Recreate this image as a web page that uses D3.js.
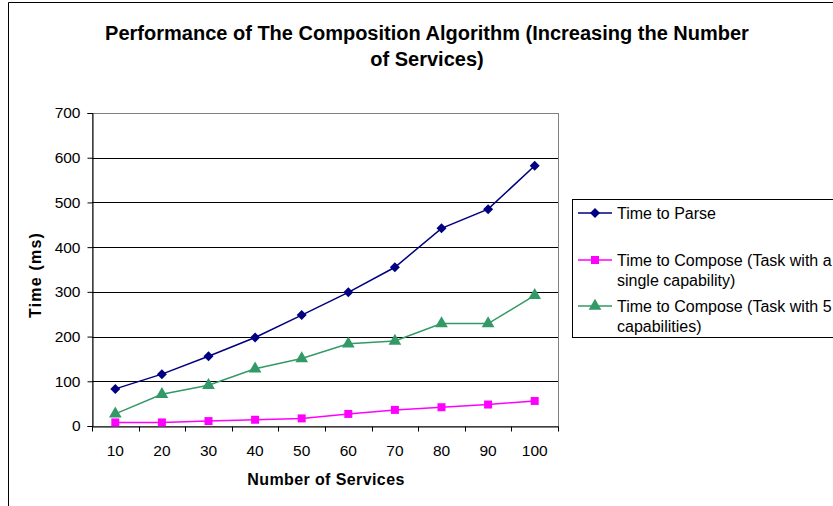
<!DOCTYPE html>
<html><head><meta charset="utf-8">
<script src="https://cdn.jsdelivr.net/npm/d3@7"></script>
<style>body{margin:0;background:#fff}svg{display:block;font-family:"Liberation Sans",Arial,sans-serif}</style>
</head><body><svg id="c" width="833" height="506"></svg>
<script>
const categories = [10,20,30,40,50,60,70,80,90,100];
const timeToParse = [83,116,156,198,248,299,355,442,485,582];
const composeSingle = [8,8,11,14,17,27,36,42,48,56];
const composeFive = [27,71,91,128,151,184,190,229,229,292];
const yTicks = [0,100,200,300,400,500,600,700];
const titleLines = ["Performance of The Composition Algorithm (Increasing the Number","of Services)"];
const series = [
  {name:["Time to Parse"], values:timeToParse, color:"#000080", marker:"diamond"},
  {name:["Time to Compose (Task with a","single capability)"], values:composeSingle, color:"#FF00FF", marker:"square"},
  {name:["Time to Compose (Task with 5","capabilities)"], values:composeFive, color:"#339966", marker:"triangle"}
];

const svg = d3.select("#c");
const L=92,R=558,T=113,B=426;
const x = d3.scaleBand().domain(categories).range([L,R]);
const y = d3.scaleLinear().domain([0,700]).range([B,T]);

// outer frame
svg.append("path").attr("d","M8.5,506 V2.5 H833").attr("fill","none").attr("stroke","#000").attr("stroke-width",1);

// title
svg.append("g").selectAll("text").data(titleLines).join("text")
  .attr("x",427).attr("y",(d,i)=>40+i*26).attr("text-anchor","middle")
  .attr("font-size",20).attr("font-weight","bold").text(d=>d);

// plot border
svg.append("rect").attr("x",L+0.5).attr("y",T+0.5).attr("width",R-L).attr("height",B-T)
  .attr("fill","none").attr("stroke","#808080");

// gridlines
svg.append("g").selectAll("line").data(yTicks.filter(d=>d>0 && d<700)).join("line")
  .attr("x1",L).attr("x2",R).attr("y1",d=>Math.round(y(d))+0.5).attr("y2",d=>Math.round(y(d))+0.5)
  .attr("stroke","#000");

// y axis
const ya = svg.append("g").attr("transform",`translate(${L+0.5},0)`)
  .call(d3.axisLeft(y).tickValues(yTicks).tickSize(5).tickPadding(7));
ya.select(".domain").attr("stroke","#000");
ya.selectAll("text").attr("font-size",15.5).attr("font-family","Liberation Sans, Arial, sans-serif").attr("fill","#000");

// x axis
const xa = svg.append("g").attr("transform",`translate(0,${B+0.5})`)
  .call(d3.axisBottom(x).tickSize(0).tickPadding(18));
xa.select(".domain").attr("stroke","#000");
xa.selectAll("text").attr("font-size",15.5).attr("font-family","Liberation Sans, Arial, sans-serif").attr("fill","#000");
const bounds = categories.map(c=>x(c)).concat([R]);
xa.selectAll("line.bt").data(bounds).join("line").attr("class","bt")
  .attr("x1",d=>Math.round(d)+0.5).attr("x2",d=>Math.round(d)+0.5).attr("y1",0).attr("y2",5).attr("stroke","#000");

// axis titles
svg.append("text").attr("x",326).attr("y",485).attr("text-anchor","middle")
  .attr("font-size",16).attr("font-weight","bold").attr("letter-spacing",0.4).text("Number of Services");
svg.append("text").attr("transform","translate(41,275) rotate(-90)").attr("text-anchor","middle")
  .attr("font-size",16).attr("font-weight","bold").attr("letter-spacing",1.2).text("Time (ms)");

const sym = {diamond:d3.symbol(d3.symbolSquare,50), square:d3.symbol(d3.symbolSquare,64), triangle:d3.symbol(d3.symbolTriangle,70)};
const rot = {diamond:45, square:0, triangle:0};
const cx = d=>x(d)+x.bandwidth()/2;
const line = d3.line().x((d,i)=>cx(categories[i])).y(d=>y(d));

series.forEach(s=>{
  svg.append("path").attr("d",line(s.values)).attr("fill","none").attr("stroke",s.color).attr("stroke-width",1.5);
  svg.append("g").selectAll("path").data(s.values).join("path")
    .attr("transform",(d,i)=>`translate(${cx(categories[i])},${y(d)}) rotate(${rot[s.marker]})`)
    .attr("d",sym[s.marker]()).attr("fill",s.color);
});

// legend
const lg = svg.append("g");
lg.append("rect").attr("x",572.5).attr("y",199.5).attr("width",300).attr("height",138).attr("fill","#fff").attr("stroke","#000");
const rowY = [213,260,306];
series.forEach((s,i)=>{
  const g = lg.append("g");
  g.append("line").attr("x1",578).attr("x2",612).attr("y1",rowY[i]).attr("y2",rowY[i]).attr("stroke",s.color).attr("stroke-width",1.5);
  g.append("path").attr("transform",`translate(595,${rowY[i]}) rotate(${rot[s.marker]})`).attr("d",sym[s.marker]()).attr("fill",s.color);
  g.selectAll("text").data(s.name).join("text").attr("x",617).attr("y",(d,j)=>rowY[i]+5.5+j*20.5)
    .attr("font-size",16).text(d=>d);
});
</script></body></html>
